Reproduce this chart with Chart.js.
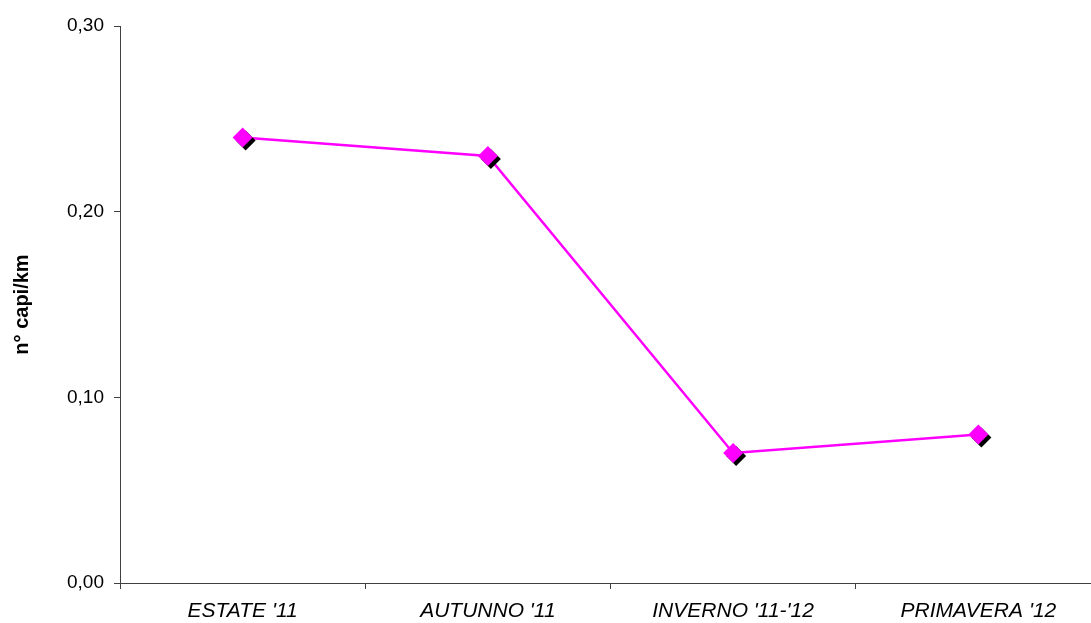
<!DOCTYPE html>
<html>
<head>
<meta charset="utf-8">
<style>
  html, body { margin: 0; padding: 0; background: #fff; overflow: hidden; }
  /* the plot runs a little past the right edge of the picture */
  #wrap { width: 1091px; height: 623px; overflow: hidden; }
</style>
</head>
<body>
<div id="wrap"><canvas id="chart" width="1101" height="623"></canvas></div>
<script src="https://cdn.jsdelivr.net/npm/chart.js"></script>
<script type="text/javascript">
    var seasons = ["ESTATE '11", "AUTUNNO '11", "INVERNO '11-'12", "PRIMAVERA '12"];
    var capiKm = [0.24, 0.23, 0.07, 0.08];
    var yTicks = [0, 0.1, 0.2, 0.3];

    // shadow under the diamonds only
    var markerShadow = {
        id: 'markerShadow',
        beforeDatasetDraw: function (chart, args) {
            if (args.index === 1) {
                var c = chart.ctx;
                c.save();
                c.shadowColor = '#000';
                c.shadowOffsetX = 3;
                c.shadowOffsetY = 3;
                c.shadowBlur = 0;
            }
        },
        afterDatasetDraw: function (chart, args) {
            if (args.index === 1) chart.ctx.restore();
        }
    };

    var ctx = document.getElementById('chart').getContext('2d');
    var chart = new Chart(ctx, {
        type: 'line',
        data: {
            labels: seasons,
            datasets: [{
                data: capiKm,
                borderColor: '#ff00ff',
                borderWidth: 2.5,
                pointRadius: 0,
                tension: 0,
                clip: false,
                order: 2
            }, {
                data: capiKm,
                showLine: false,
                pointStyle: 'rectRot',
                pointRadius: 10,
                pointBackgroundColor: '#ff00ff',
                pointBorderWidth: 0,
                clip: false,
                order: 1
            }]
        },
        options: {
            responsive: false,
            animation: false,
            layout: { autoPadding: false, padding: { top: 26, right: 0, left: 0, bottom: 0 } },
            plugins: { legend: { display: false }, tooltip: { enabled: false } },
            scales: {
                x: {
                    offset: true,
                    grid: { offset: true, drawOnChartArea: false, tickLength: 6, color: '#404040' },
                    border: { color: '#404040', width: 1 },
                    ticks: {
                        color: '#000',
                        padding: 10,
                        maxRotation: 0,
                        font: { family: 'Liberation Sans', size: 21, style: 'italic' }
                    },
                    afterFit: function (s) {
                        s.height = 40;
                        s.paddingLeft = 0;
                        s.paddingRight = 0;
                    }
                },
                y: {
                    min: 0,
                    max: 0.3,
                    afterBuildTicks: function (s) {
                        s.ticks = yTicks.map(function (v) { return { value: v }; });
                    },
                    grid: { drawOnChartArea: false, tickLength: 6, color: '#404040' },
                    border: { color: '#404040', width: 1 },
                    ticks: {
                        color: '#000',
                        padding: 10,
                        font: { family: 'Liberation Sans', size: 19 },
                        callback: function (v) { return v.toFixed(2).replace('.', ','); }
                    },
                    title: {
                        display: true,
                        text: 'n° capi/km',
                        color: '#000',
                        padding: { top: 10, bottom: 20 },
                        font: { family: 'Liberation Sans', size: 20, weight: 'bold' }
                    },
                    afterFit: function (s) {
                        s.width = 120;
                        s.paddingTop = 0;
                        s.paddingBottom = 0;
                    }
                }
            }
        },
        plugins: [markerShadow]
    });
</script>
</body>
</html>
